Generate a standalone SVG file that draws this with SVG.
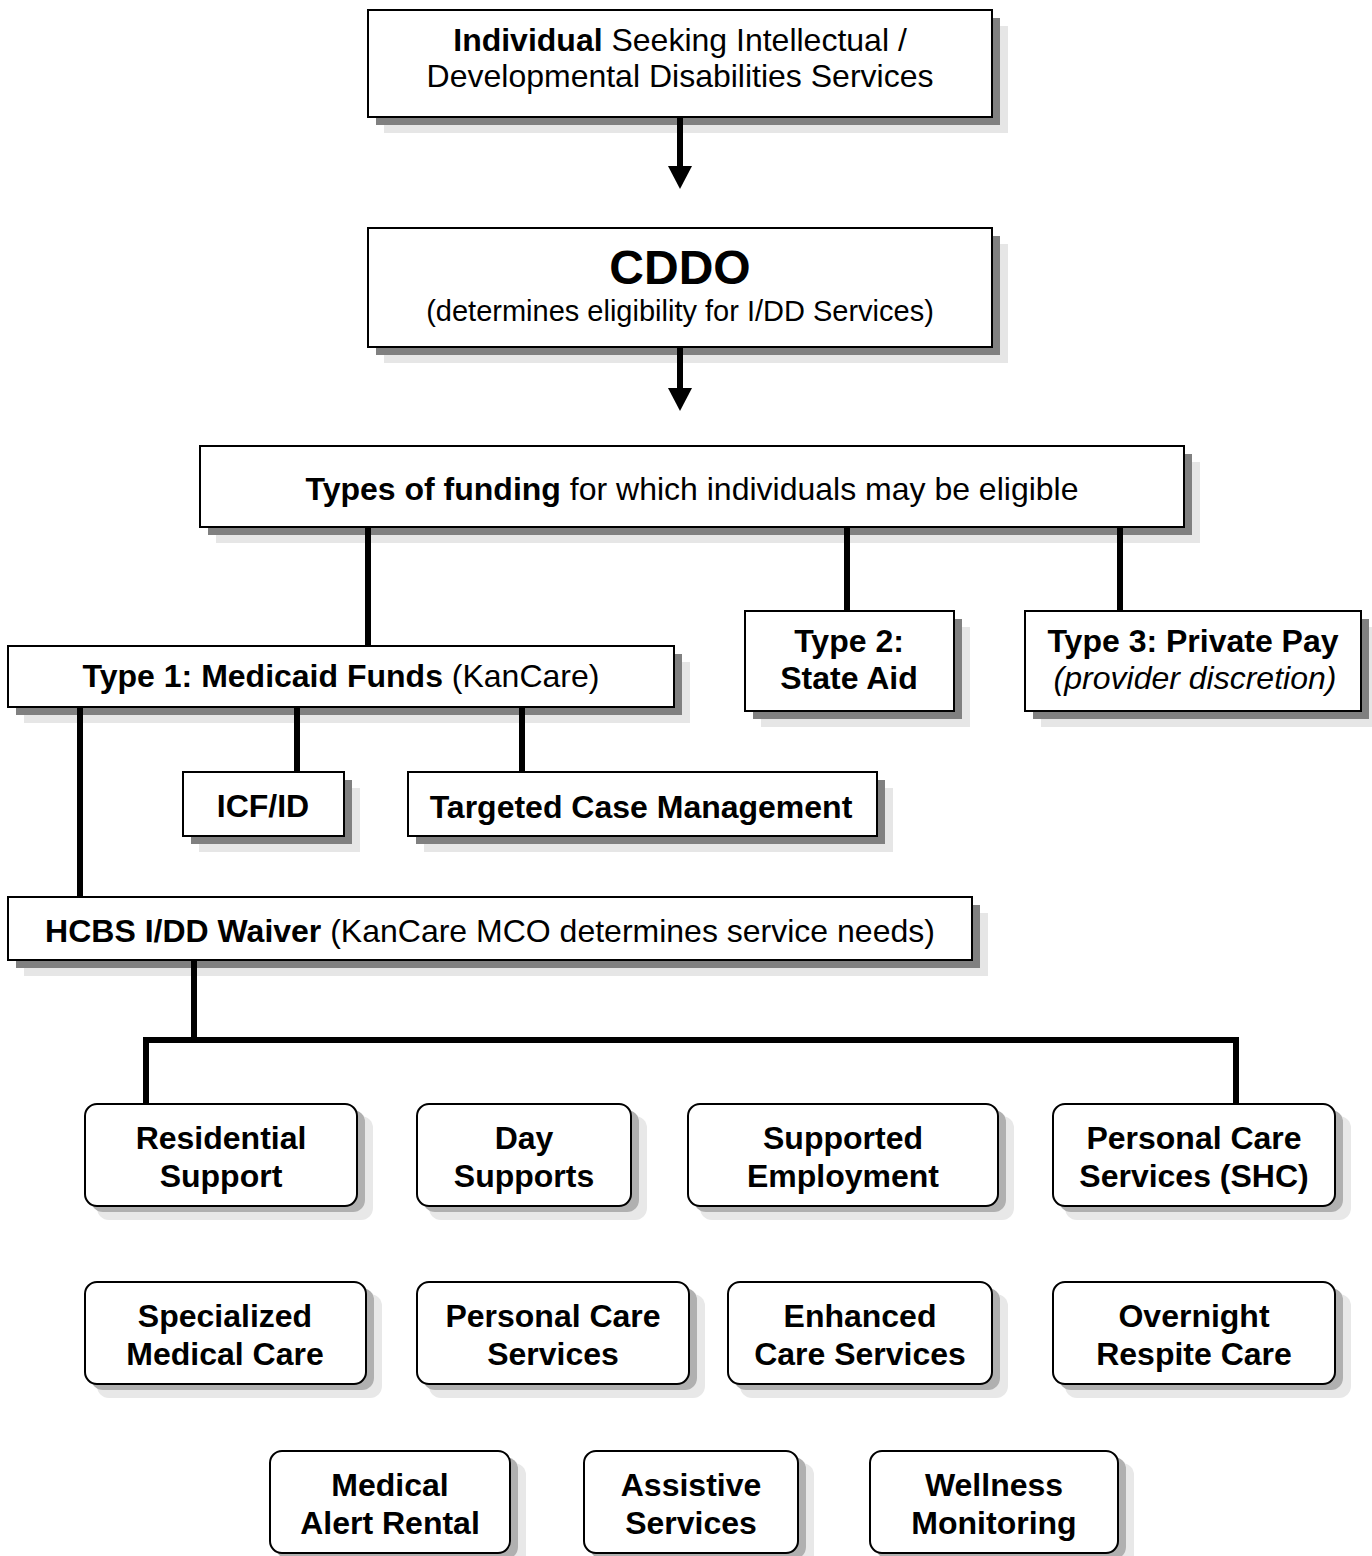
<svg xmlns="http://www.w3.org/2000/svg" width="1372" height="1556" viewBox="0 0 1372 1556">
<style>
text{font-family:"Liberation Sans",Arial,sans-serif;fill:#000;text-anchor:middle}
.b{font-weight:bold}
.t{font-size:32px}
.box{fill:#fff;stroke:#000;stroke-width:2}
.sh1{fill:#808080}
.sh2{fill:#e6e6e6}
.rs1{fill:#b0b0b0}
.rs2{fill:#e8e8e8}
.ln{stroke:#000;stroke-width:6;fill:none}
</style>
<g id="n-individual">
<rect class="sh2" x="384" y="26" width="624" height="107"/>
<rect class="sh1" x="376" y="18" width="624" height="107"/>
<rect class="box" x="368" y="10" width="624" height="107"/>
<text class="t" x="680" y="51"><tspan class="b">Individual</tspan> Seeking Intellectual /</text>
<text class="t" x="680" y="87">Developmental Disabilities Services</text>
</g>
<g id="n-cddo">
<rect class="sh2" x="384" y="244" width="624" height="119"/>
<rect class="sh1" x="376" y="236" width="624" height="119"/>
<rect class="box" x="368" y="228" width="624" height="119"/>
<text class="b" x="680" y="284" font-size="48">CDDO</text>
<text x="680" y="321" font-size="29">(determines eligibility for I/DD Services)</text>
</g>
<g id="n-funding">
<rect class="sh2" x="216" y="462" width="984" height="81"/>
<rect class="sh1" x="208" y="454" width="984" height="81"/>
<rect class="box" x="200" y="446" width="984" height="81"/>
<text class="t" x="692" y="500"><tspan class="b">Types of funding</tspan> for which individuals may be eligible</text>
</g>
<g id="n-type1">
<rect class="sh2" x="24" y="662" width="666" height="61"/>
<rect class="sh1" x="16" y="654" width="666" height="61"/>
<rect class="box" x="8" y="646" width="666" height="61"/>
<text class="t" x="341" y="687"><tspan class="b">Type 1: Medicaid Funds</tspan> (KanCare)</text>
</g>
<g id="n-type2">
<rect class="sh2" x="761" y="627" width="209" height="100"/>
<rect class="sh1" x="753" y="619" width="209" height="100"/>
<rect class="box" x="745" y="611" width="209" height="100"/>
<text class="t b" x="849" y="652">Type 2:</text>
<text class="t b" x="849" y="689">State Aid</text>
</g>
<g id="n-type3">
<rect class="sh2" x="1041" y="627" width="336" height="100"/>
<rect class="sh1" x="1033" y="619" width="336" height="100"/>
<rect class="box" x="1025" y="611" width="336" height="100"/>
<text class="t b" x="1193" y="652">Type 3: Private Pay</text>
<text class="t" x="1195" y="689" font-style="italic">(provider discretion)</text>
</g>
<g id="n-icf">
<rect class="sh2" x="199" y="788" width="161" height="64"/>
<rect class="sh1" x="191" y="780" width="161" height="64"/>
<rect class="box" x="183" y="772" width="161" height="64"/>
<text class="t b" x="263" y="817">ICF/ID</text>
</g>
<g id="n-tcm">
<rect class="sh2" x="424" y="788" width="469" height="64"/>
<rect class="sh1" x="416" y="780" width="469" height="64"/>
<rect class="box" x="408" y="772" width="469" height="64"/>
<text class="t b" x="641" y="818">Targeted Case Management</text>
</g>
<g id="n-hcbs">
<rect class="sh2" x="24" y="913" width="964" height="63"/>
<rect class="sh1" x="16" y="905" width="964" height="63"/>
<rect class="box" x="8" y="897" width="964" height="63"/>
<text class="t" x="490" y="942"><tspan class="b">HCBS I/DD Waiver</tspan> (KanCare MCO determines service needs)</text>
</g>
<g id="n-residential">
<rect class="rs2" x="97" y="1116" width="276" height="104" rx="12"/>
<rect class="rs1" x="91" y="1110" width="274" height="102" rx="12"/>
<rect class="box" x="85" y="1104" width="272" height="102" rx="12"/>
<text class="t b" x="221" y="1149">Residential</text>
<text class="t b" x="221" y="1187">Support</text>
</g>
<g id="n-day">
<rect class="rs2" x="429" y="1116" width="218" height="104" rx="12"/>
<rect class="rs1" x="423" y="1110" width="216" height="102" rx="12"/>
<rect class="box" x="417" y="1104" width="214" height="102" rx="12"/>
<text class="t b" x="524" y="1149">Day</text>
<text class="t b" x="524" y="1187">Supports</text>
</g>
<g id="n-supported">
<rect class="rs2" x="700" y="1116" width="314" height="104" rx="12"/>
<rect class="rs1" x="694" y="1110" width="312" height="102" rx="12"/>
<rect class="box" x="688" y="1104" width="310" height="102" rx="12"/>
<text class="t b" x="843" y="1149">Supported</text>
<text class="t b" x="843" y="1187">Employment</text>
</g>
<g id="n-pcs-shc">
<rect class="rs2" x="1065" y="1116" width="286" height="104" rx="12"/>
<rect class="rs1" x="1059" y="1110" width="284" height="102" rx="12"/>
<rect class="box" x="1053" y="1104" width="282" height="102" rx="12"/>
<text class="t b" x="1194" y="1149">Personal Care</text>
<text class="t b" x="1194" y="1187">Services (SHC)</text>
</g>
<g id="n-specialized">
<rect class="rs2" x="97" y="1294" width="285" height="104" rx="12"/>
<rect class="rs1" x="91" y="1288" width="283" height="102" rx="12"/>
<rect class="box" x="85" y="1282" width="281" height="102" rx="12"/>
<text class="t b" x="225" y="1327">Specialized</text>
<text class="t b" x="225" y="1365">Medical Care</text>
</g>
<g id="n-pcs">
<rect class="rs2" x="429" y="1294" width="276" height="104" rx="12"/>
<rect class="rs1" x="423" y="1288" width="274" height="102" rx="12"/>
<rect class="box" x="417" y="1282" width="272" height="102" rx="12"/>
<text class="t b" x="553" y="1327">Personal Care</text>
<text class="t b" x="553" y="1365">Services</text>
</g>
<g id="n-enhanced">
<rect class="rs2" x="740" y="1294" width="268" height="104" rx="12"/>
<rect class="rs1" x="734" y="1288" width="266" height="102" rx="12"/>
<rect class="box" x="728" y="1282" width="264" height="102" rx="12"/>
<text class="t b" x="860" y="1327">Enhanced</text>
<text class="t b" x="860" y="1365">Care Services</text>
</g>
<g id="n-overnight">
<rect class="rs2" x="1065" y="1294" width="286" height="104" rx="12"/>
<rect class="rs1" x="1059" y="1288" width="284" height="102" rx="12"/>
<rect class="box" x="1053" y="1282" width="282" height="102" rx="12"/>
<text class="t b" x="1194" y="1327">Overnight</text>
<text class="t b" x="1194" y="1365">Respite Care</text>
</g>
<g id="n-medalert">
<rect class="rs2" x="282" y="1463" width="244" height="104" rx="12"/>
<rect class="rs1" x="276" y="1457" width="242" height="102" rx="12"/>
<rect class="box" x="270" y="1451" width="240" height="102" rx="12"/>
<text class="t b" x="390" y="1496">Medical</text>
<text class="t b" x="390" y="1534">Alert Rental</text>
</g>
<g id="n-assistive">
<rect class="rs2" x="596" y="1463" width="218" height="104" rx="12"/>
<rect class="rs1" x="590" y="1457" width="216" height="102" rx="12"/>
<rect class="box" x="584" y="1451" width="214" height="102" rx="12"/>
<text class="t b" x="691" y="1496">Assistive</text>
<text class="t b" x="691" y="1534">Services</text>
</g>
<g id="n-wellness">
<rect class="rs2" x="882" y="1463" width="252" height="104" rx="12"/>
<rect class="rs1" x="876" y="1457" width="250" height="102" rx="12"/>
<rect class="box" x="870" y="1451" width="248" height="102" rx="12"/>
<text class="t b" x="994" y="1496">Wellness</text>
<text class="t b" x="994" y="1534">Monitoring</text>
</g>
<g id="connectors">
<line class="ln" x1="680" y1="118" x2="680" y2="168"/>
<path d="M668,166 L692,166 L680,189 z"/>
<line class="ln" x1="680" y1="348" x2="680" y2="390"/>
<path d="M668,388 L692,388 L680,411 z"/>
<line class="ln" x1="368" y1="528" x2="368" y2="645"/>
<line class="ln" x1="847" y1="528" x2="847" y2="610"/>
<line class="ln" x1="1120" y1="528" x2="1120" y2="610"/>
<line class="ln" x1="80" y1="708" x2="80" y2="896"/>
<line class="ln" x1="297" y1="708" x2="297" y2="771"/>
<line class="ln" x1="522" y1="708" x2="522" y2="771"/>
<line class="ln" x1="194" y1="961" x2="194" y2="1040"/>
<path class="ln" d="M146,1103 L146,1040 L1236,1040 L1236,1103"/>
</g>
</svg>
